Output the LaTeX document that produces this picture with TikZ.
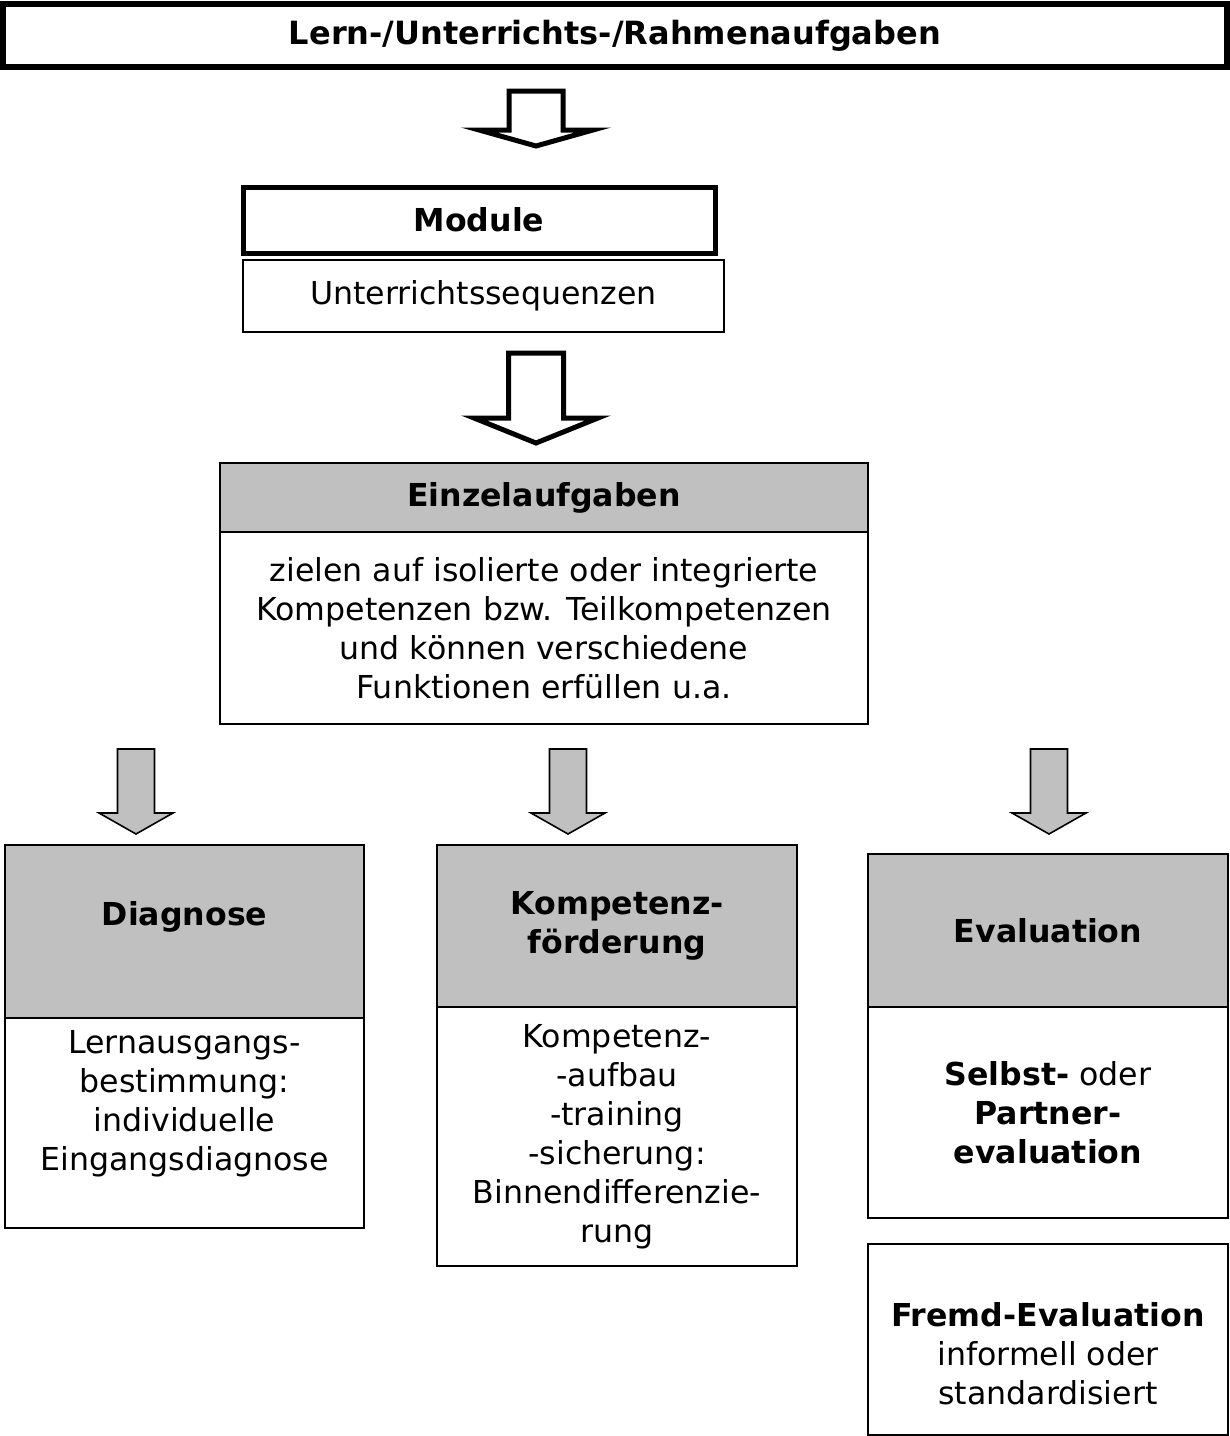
\documentclass[tikz,border=0pt]{standalone}
\usepackage{fontspec}
\setmainfont{DejaVu Sans}
\usetikzlibrary{positioning}
\definecolor{boxgray}{RGB}{192,192,192}

\begin{document}
\begin{tikzpicture}[
  x=0.5pt, y=-0.5pt,
  every node/.style={font=\fontsize{15.8}{19.5}\selectfont, align=center,
  inner sep=0pt, outer sep=0pt},
  framebox/.style={draw, line width=0.8pt, fill=white},
  headbox/.style={framebox, fill=boxgray},
  heavybox/.style={draw, line width=#1, fill=white},
  pics/blockarrow/.style n args={6}{code={
    \draw[line width=#5, fill=#6, line join=miter] (0,0) -- (-#2,-#4) -- (-#1,-#4)
      -- (-#1,-#3) -- (#1,-#3) -- (#1,-#4) -- (#2,-#4) -- cycle;}}
]
\useasboundingbox (0,0) rectangle (1230,1436);

% upper part
\node[heavybox=3pt, minimum width=612pt, minimum height=31.5pt] (rahmen) at (615,35.5)
  {\fontsize{16}{19.5}\selectfont\textbf{Lern-/Unterrichts-/Rahmenaufgaben}};
\node[heavybox=2.5pt, minimum width=236pt, minimum height=33pt] (module) at (479,220)
  {\textbf{Module}};
\node[framebox, minimum width=240.5pt, minimum height=36pt] (sequenz) at (483.5,296)
  {Unterrichtssequenzen};

\node[headbox, minimum width=324pt, minimum height=34.5pt] (einzel) at (544,497.5)
  {\textbf{Einzelaufgaben}};
\node[framebox, minimum width=324pt, minimum height=96pt, below=0pt of einzel] (einzeltext)
  {zielen auf isolierte oder integrierte\\Kompetenzen bzw. Teilkompetenzen\\und können verschiedene\\Funktionen erfüllen u.a.};

% three functions
\node[headbox, minimum width=179.5pt, minimum height=86.5pt] (diag) at (184.5,931.5) {};
\node[framebox, minimum width=179.5pt, minimum height=105pt, below=0pt of diag] (diagbox) {};
\node (diagtitel) at (184.5,917) {\textbf{Diagnose}};
\node (diagtext) at (184.5,1104)
  {Lernausgangs-\\bestimmung:\\individuelle\\Eingangsdiagnose};

\node[headbox, minimum width=180pt, minimum height=81pt] (komp) at (617,926)
  {\textbf{Kompetenz-}\\\textbf{förderung}};
\node[framebox, minimum width=180pt, minimum height=129.5pt, below=0pt of komp] (komptext)
  {Kompetenz-\\-aufbau\\-training\\-sicherung:\\Binnendifferenzie-\\rung};

\node[headbox, minimum width=180pt, minimum height=76.5pt] (eval) at (1048,930.5)
  {\textbf{Evaluation}};
\node[framebox, minimum width=180pt, minimum height=105.5pt, below=0pt of eval] (evaltext)
  {\textbf{Selbst-} oder\\\textbf{Partner-}\\\textbf{evaluation}};

\node[framebox, minimum width=180pt, minimum height=95.5pt, below=13pt of evaltext] (fremd) {};
\node (fremdtext) at (1048,1354)
  {\textbf{Fremd-Evaluation}\\informell oder\\standardisiert};

% block arrows
\pic at (536,146) {blockarrow={27}{57}{55}{16}{2.5pt}{white}};
\pic at (536,443) {blockarrow={27.5}{62}{90}{25}{2.5pt}{white}};
\foreach \ax in {136,568,1049}
  \pic at (\ax,834) {blockarrow={18.5}{37}{85}{21}{0.8pt}{boxgray}};
\end{tikzpicture}
\end{document}
